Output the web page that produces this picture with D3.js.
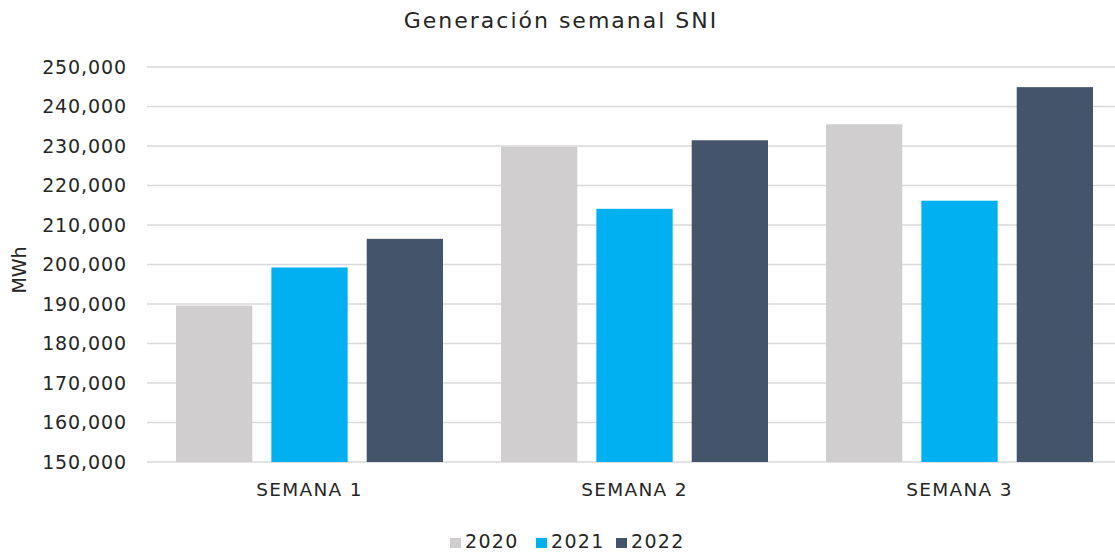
<!DOCTYPE html>
<html><head><meta charset="utf-8">
<script src="https://cdn.jsdelivr.net/npm/d3@7"></script>
<style>body{margin:0;background:#fff}</style>
</head><body>
<svg id="chart" width="1115" height="552"></svg>
<script>
const categories = ["SEMANA 1", "SEMANA 2", "SEMANA 3"];
const seriesNames = ["2020", "2021", "2022"];
const values2020 = [189600, 229800, 235500];
const values2021 = [199250, 214100, 216150];
const values2022 = [206500, 231450, 244900];
const colors = ["#d0cece", "#00b0f0", "#44546a"];
const yTicks = [150000,160000,170000,180000,190000,200000,210000,220000,230000,240000,250000];
const title = "Generación semanal SNI";
const yLabel = "MWh";

(function(){
const series = [values2020, values2021, values2022];
const svg = d3.select("#chart");
const font = "DejaVu Sans";
const mLeft = 147, mRight = 1122, mTop = 67, mBottom = 462;

const x0 = d3.scaleBand().domain(categories).range([mLeft, mRight]).paddingInner(0).paddingOuter(0);
const x1 = d3.scaleBand().domain(seriesNames).range([29, 325 - 29]).paddingInner(0.2).paddingOuter(0);
const y = d3.scaleLinear().domain([150000, 250000]).range([mBottom, mTop]);

// gridlines
svg.append("g").selectAll("line").data(yTicks).join("line")
  .attr("x1", mLeft).attr("x2", mRight)
  .attr("y1", d => y(d)).attr("y2", d => y(d))
  .attr("stroke", "#d9d9d9").attr("stroke-width", 1.5);

// y axis labels
const yAxis = d3.axisLeft(y).tickValues(yTicks).tickFormat(d3.format(",")).tickSize(0).tickPadding(20);
const ya = svg.append("g").attr("transform", `translate(${mLeft},0)`).call(yAxis);
ya.select(".domain").remove();
ya.selectAll("text").attr("font-family", font).attr("font-size", 19).attr("fill", "#262626")
  .attr("letter-spacing", 0.9);

// bars
const groups = svg.append("g").selectAll("g").data(categories).join("g")
  .attr("transform", d => `translate(${x0(d)},0)`);
groups.selectAll("rect").data((c, i) => seriesNames.map((s, j) => ({s, v: series[j][i], j})))
  .join("rect")
  .attr("x", d => x1(d.s)).attr("width", x1.bandwidth())
  .attr("y", d => y(d.v)).attr("height", d => y(150000) - y(d.v))
  .attr("fill", d => colors[d.j]);

// x axis labels
const xAxis = d3.axisBottom(x0).tickSize(0).tickPadding(21);
const xa = svg.append("g").attr("transform", `translate(0,${mBottom})`).call(xAxis);
xa.select(".domain").remove();
xa.selectAll("text").attr("font-family", font)
  .attr("font-size", 18.5).attr("fill", "#262626").attr("letter-spacing", 1.3);

// title
svg.append("text").attr("x", 561).attr("y", 28).attr("text-anchor", "middle")
  .attr("font-family", font).attr("font-size", 22).attr("fill", "#262626").attr("letter-spacing", 2.0).text(title);

// y label
svg.append("text").attr("transform", "translate(26,270) rotate(-90)").attr("text-anchor", "middle")
  .attr("font-family", font).attr("font-size", 19).attr("fill", "#262626").text(yLabel);

// legend
const legendX = [450, 536, 616];
const lg = svg.append("g").selectAll("g").data(seriesNames).join("g")
  .attr("transform", (d, i) => `translate(${legendX[i]},538)`);
lg.append("rect").attr("width", 11).attr("height", 10).attr("fill", (d, i) => colors[i]);
lg.append("text").attr("x", 15).attr("y", 10).attr("font-family", font).attr("font-size", 19)
  .attr("fill", "#262626").attr("letter-spacing", 1.3).text(d => d);
})();
</script>
</body></html>
